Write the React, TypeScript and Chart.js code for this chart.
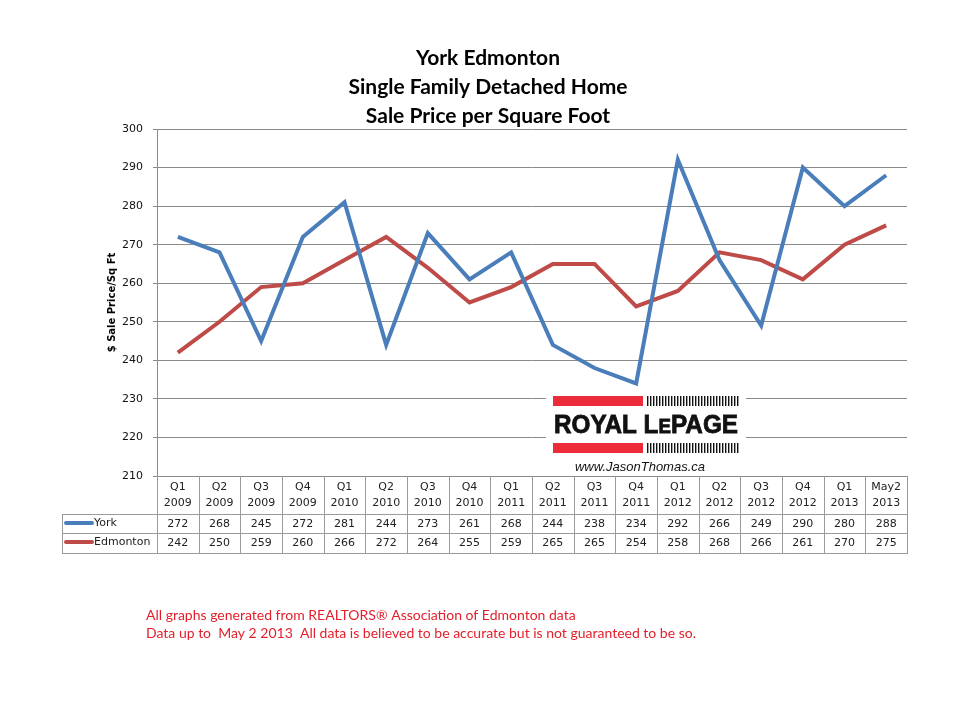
import React, { useEffect, useRef } from "react";
import { Chart, registerables } from "chart.js";

Chart.register(...registerables);

const quarters = ["Q1","Q2","Q3","Q4","Q1","Q2","Q3","Q4","Q1","Q2","Q3","Q4","Q1","Q2","Q3","Q4","Q1","May2"];
const years = ["2009","2009","2009","2009","2010","2010","2010","2010","2011","2011","2011","2011","2012","2012","2012","2012","2013","2013"];
const york = [272,268,245,272,281,244,273,261,268,244,238,234,292,266,249,290,280,288];
const edmonton = [242,250,259,260,266,272,264,255,259,265,265,254,258,268,266,261,270,275];
const seriesNames = ["York", "Edmonton"];
const titleLines = ["York Edmonton", "Single Family Detached Home", "Sale Price per Square Foot"];
const yAxisTitle = "$ Sale Price/Sq Ft";
const footnotes = [
  "All graphs generated from REALTORS\u00ae Association of Edmonton data",
  "Data up to  May 2 2013  All data is believed to be accurate but is not guaranteed to be so.",
];
const logoUrl = "www.JasonThomas.ca";

const BLUE = "#4a7ebb";
const RED = "#be4b48";
const GRID = "#8a8a8a";
const TABLE_LINE = "#9a9a9a";

const overlayPlugin = {
  id: "overlay",
  afterDatasetsDraw(chart: any) {
    const ctx = chart.ctx;
    // Logo
    ctx.save();
    ctx.fillStyle = "#ffffff";
    ctx.fillRect(546, 387, 200, 88);
    const redC = "#ec2b3b";
    const drawBar = (y: number) => {
      ctx.fillStyle = redC;
      ctx.fillRect(553, y, 90, 10);
      ctx.fillStyle = "#111";
      for (let x = 647; x <= 738; x += 3) ctx.fillRect(x, y, 1.4, 10);
    };
    drawBar(396);
    drawBar(443);
    ctx.fillStyle = "#111";
    ctx.textBaseline = "alphabetic";
    ctx.textAlign = "left";
    const big = "bold 26px 'Liberation Sans', Arial, sans-serif";
    const small = "bold 20px 'Liberation Sans', Arial, sans-serif";
    ctx.font = big;
    const w1 = ctx.measureText("ROYAL L").width;
    const w3 = ctx.measureText("PAGE").width;
    ctx.font = small;
    const w2 = ctx.measureText("E").width;
    const total = w1 + w2 + w3;
    const target = 184;
    ctx.save();
    ctx.translate(554, 433);
    ctx.scale(target / total, 1);
    ctx.lineWidth = 0.8;
    ctx.strokeStyle = "#111";
    ctx.font = big;
    ctx.fillText("ROYAL L", 0, 0);
    ctx.strokeText("ROYAL L", 0, 0);
    ctx.font = small;
    ctx.fillText("E", w1, 0);
    ctx.strokeText("E", w1, 0);
    ctx.font = big;
    ctx.fillText("PAGE", w1 + w2, 0);
    ctx.strokeText("PAGE", w1 + w2, 0);
    ctx.restore();
    ctx.font = "italic 13px 'Liberation Sans', Arial, sans-serif";
    ctx.fillStyle = "#111";
    ctx.textAlign = "center";
    ctx.fillText(logoUrl, 640, 471);
    ctx.restore();
  },
  afterDraw(chart: any) {
    const ctx = chart.ctx;
    const area = chart.chartArea;
    const xs = chart.scales.x;
    const n = quarters.length;
    const colW = (area.right - area.left) / n;
    ctx.save();
    // Title
    ctx.fillStyle = "#000";
    ctx.textAlign = "center";
    ctx.textBaseline = "middle";
    ctx.font = "bold 21px Lato, 'Open Sans', sans-serif";
    titleLines.forEach((t, i) => ctx.fillText(t, 488, 58 + i * 29));
    // Y axis title
    ctx.save();
    ctx.translate(112, (area.top + area.bottom) / 2);
    ctx.rotate(-Math.PI / 2);
    ctx.font = "bold 10px 'DejaVu Sans', sans-serif";
    ctx.fillText(yAxisTitle, 0, 0);
    ctx.restore();
    // Table
    const top = area.bottom;
    const r1 = 514;
    const r2 = 533;
    const r3 = 553;
    const left = 62;
    ctx.strokeStyle = TABLE_LINE;
    ctx.lineWidth = 1;
    ctx.beginPath();
    for (let i = 0; i <= n; i++) {
      const x = Math.round(area.left + i * colW) + 0.5;
      ctx.moveTo(x, top);
      ctx.lineTo(x, r3);
    }
    ctx.moveTo(left + 0.5, r1);
    ctx.lineTo(left + 0.5, r3);
    [r1, r2, r3].forEach((y) => {
      ctx.moveTo(left, y + 0.5);
      ctx.lineTo(area.right + 1, y + 0.5);
    });
    ctx.stroke();
    ctx.fillStyle = "#222";
    ctx.font = "11px 'DejaVu Sans', sans-serif";
    ctx.textAlign = "center";
    ctx.textBaseline = "middle";
    for (let i = 0; i < n; i++) {
      const cx = xs.getPixelForValue(i);
      ctx.fillText(quarters[i], cx, 487);
      ctx.fillText(years[i], cx, 503);
      ctx.fillText(String(york[i]), cx, 524);
      ctx.fillText(String(edmonton[i]), cx, 543);
    }
    // row labels with swatches
    const rows = [
      { name: seriesNames[0], color: BLUE, y: 523 },
      { name: seriesNames[1], color: RED, y: 542 },
    ];
    rows.forEach((r) => {
      ctx.strokeStyle = r.color;
      ctx.lineWidth = 4;
      ctx.lineCap = "round";
      ctx.beginPath();
      ctx.moveTo(66, r.y);
      ctx.lineTo(92, r.y);
      ctx.stroke();
      ctx.fillStyle = "#222";
      ctx.textAlign = "left";
      ctx.fillText(r.name, 94, r.y);
    });
    // Footnotes
    ctx.fillStyle = "#e3202c";
    ctx.font = "14px Lato, 'Open Sans', sans-serif";
    ctx.textAlign = "left";
    ctx.textBaseline = "middle";
    footnotes.forEach((t, i) => ctx.fillText(t, 146, 615 + i * 18));
    ctx.restore();
  },
};

export default function App() {
  const ref = useRef<HTMLCanvasElement>(null);
  useEffect(() => {
    if (!ref.current) return;
    const chart = new Chart(ref.current, {
      type: "line",
      data: {
        labels: quarters.map((q, i) => q + " " + years[i]),
        datasets: [
          { label: seriesNames[0], data: york, borderColor: BLUE, backgroundColor: BLUE, borderWidth: 4, pointRadius: 0, tension: 0 },
          { label: seriesNames[1], data: edmonton, borderColor: RED, backgroundColor: RED, borderWidth: 4, pointRadius: 0, tension: 0 },
        ],
      },
      options: {
        responsive: false,
        animation: false,
        layout: { padding: { top: 129, left: 0, right: 53, bottom: 244 } },
        plugins: { legend: { display: false }, title: { display: false }, tooltip: { enabled: false } },
        scales: {
          x: { display: false, offset: true },
          y: {
            min: 210,
            max: 300,
            afterFit: (s: any) => { s.width = 157; },
            ticks: { stepSize: 10, color: "#111", padding: 10, font: { family: "'DejaVu Sans', sans-serif", size: 11 } },
            grid: { color: GRID, lineWidth: 1, tickLength: 4, drawTicks: true },
            border: { display: true, color: GRID },
          },
        },
      },
      plugins: [overlayPlugin],
    });
    return () => chart.destroy();
  }, []);
  return (
    <div style={{ position: "fixed", left: 0, top: 0, width: 960, height: 720, background: "#fff" }}>
      <canvas ref={ref} width={960} height={720} style={{ width: 960, height: 720 }} />
    </div>
  );
}
